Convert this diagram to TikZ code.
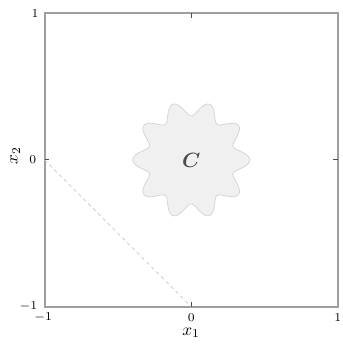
\documentclass[tikz,border=0pt]{standalone}
\usepackage{amsmath, amssymb}
\usepackage{bm}
\usetikzlibrary{positioning}

\begin{document}
\begin{tikzpicture}[x=3cm, y=3cm, every node/.style={font=\scriptsize, inner sep=1pt},
    frame/.style={draw=gray!75, line width=1.1pt},
    tick/.style={draw=black!70, line width=0.6pt},
    setC/.style={fill=gray!12, draw=gray!35, line width=0.4pt}]
  \useasboundingbox (-1.304,-1.269) rectangle (1.029,1.091);
  \draw[frame] (-1,-1) rectangle (1,1);
  % ticks
  \draw[tick] (0,1) -- (0,0.97);
  \draw[tick] (0,-1) -- (0,-0.97);
  \draw[tick] (-1,0) -- (-0.97,0);
  \draw[tick] (1,0) -- (0.97,0);
  % the set C
  \draw[setC] plot[smooth cycle, samples=181, domain=0:358] ({(0.35+0.05*cos(10*\x))*cos(\x)}, {(0.35+0.05*cos(10*\x))*sin(\x)});
  \node[font=\large, text=black!70] (c) at (0,0) {$\bm{C}$};
  % dashed line
  \coordinate (a) at (-1,0);
  \coordinate (b) at (0,-1);
  \draw[gray!45, dashed, dash pattern=on 2pt off 2pt, line width=0.5pt] (a) -- (b);
  % tick labels
  \node (t1) at (-1.065,1.0) {$1$};
  \node (t2) at (-1.08,0) {$0$};
  \node (t3) at (-1.11,-1.0) {$-1$};
  \node (t4) at (-1.01,-1.075) {$-1$};
  \node (t5) at (0,-1.075) {$0$};
  \node (t6) at (1,-1.075) {$1$};
  \node[font=\normalsize] (xa) at (0,-1.18) {$x_1$};
  \node[font=\normalsize, rotate=90] (xb) at (-1.2,0.03) {$x_2$};
\end{tikzpicture}
\end{document}
